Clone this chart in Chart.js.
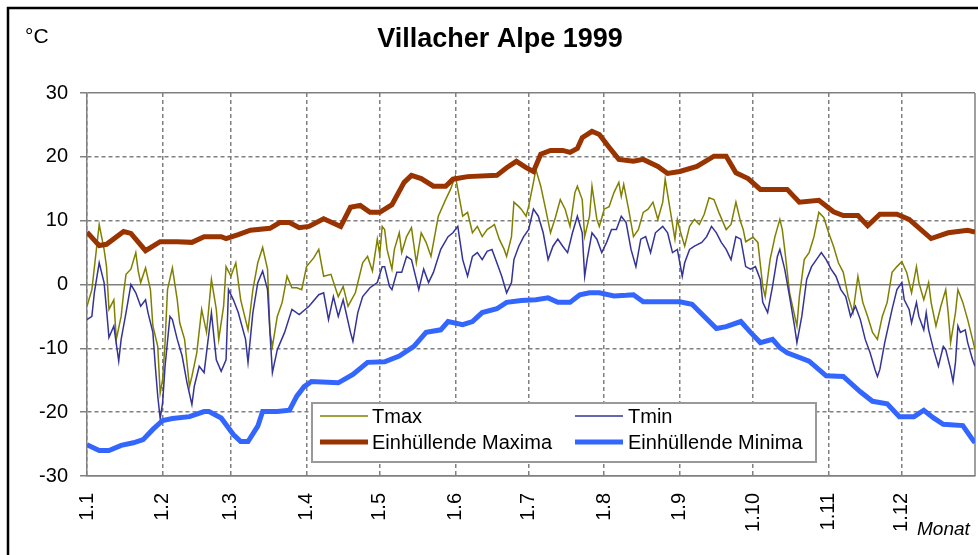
<!DOCTYPE html>
<html><head><meta charset="utf-8">
<script src="https://cdn.jsdelivr.net/npm/chart.js@4.4.1/dist/chart.umd.min.js"></script>
<style>html,body{margin:0;padding:0;background:#fff;} #wrap{width:978px;height:555px;position:relative;}</style>
</head><body><div id="wrap"><canvas id="c" width="978" height="555"></canvas></div>
<script>
const FONT = '"Liberation Sans", Arial, sans-serif';

const monthStartDays = [0,31,59,90,120,151,181,212,243,273,304,334];
const monthLabels = ['1.1','1.2','1.3','1.4','1.5','1.6','1.7','1.8','1.9','1.10','1.11','1.12'];

const tmaxDays = [0,2,5,7,8,9,11,12,14,15,16,18,20,21,22,24,26,27,29,30,31,32,33,35,37,38,40,42,43,45,47,49,51,53,54,56,57,59,61,63,66,68,70,72,74,75,76,78,80,82,84,86,88,90,93,95,97,100,103,105,107,110,113,115,117,119,120,121,
122,123,125,126,128,129,131,133,135,137,139,141,143,144,147,149,151,152,154,156,158,160,162,164,166,167,169,171,172,174,175,177,178,180,181,183,184,186,188,190,192,194,196,198,200,201,203,204,206,207,209,210,212,214,216,218,219,220,222,224,226,228,230,232,234,236,237,239,241,242,
243,245,247,249,251,253,255,257,259,262,264,266,268,269,270,273,275,277,278,280,282,284,285,286,288,291,292,294,296,298,300,302,304,306,308,310,312,314,316,318,320,322,324,326,328,330,332,334,336,338,340,341,343,345,346,348,350,352,353,354,356,357,359,361,363,364];
const tmaxValues = [-3.4,-0.8,9.4,5.5,2.8,-3.9,-2.4,-8.6,-5,-1.3,1.6,2.4,5,2.1,0.3,2.6,-0.8,-6.5,-9.7,-17,-14.9,-9.1,-0.8,2.6,-2.4,-6,-8.6,-16,-14.4,-10.7,-3.9,-7.5,0.8,-3.9,-8.6,-3.4,2.8,1.3,3.4,-2.4,-7.1,-0.8,3.4,5.8,2.4,-7.5,-9.7,-5,-2.8,1.3,-0.5,-0.5,-0.8,2.8,4.2,5.5,1.3,1.6,-1.9,-0.3,-3.4,-1.3,3.4,4.4,2.1,7.1,4.7,9.1,
8.6,5.5,2.4,5.5,8.1,5,7.5,8.9,3.4,8.1,6.6,4.4,8.6,10.7,13.3,14.9,17,14.9,10.7,11.3,8.1,9.1,7.5,8.6,9.1,9.4,7.1,5.5,4.4,7.5,12.9,12.2,11.8,10.7,12.2,16,18,15.4,11.8,8.1,10.5,13.3,11.8,9.1,14.4,15.4,13.3,7.5,10.7,15.4,10.2,9.1,11.8,12.2,14.4,16,13.8,15.7,11.8,7.5,8.6,11.3,11.8,12.9,10.2,12.9,16.5,11.8,7.1,10.2,
8.6,6,9.1,10.2,9.4,11,13.6,13.3,11.3,8.6,9.4,12.9,9.7,8.6,6.7,7.4,6.6,-0.3,-1.9,3.9,7.5,10.2,8.6,5.5,-1.3,-6.5,-1.9,3.9,5,7.5,11.3,10.5,8.1,6,3.4,1.9,-1.9,-4.4,1.3,-2.8,-5,-7.5,-8.6,-5,-2.8,1.9,2.8,3.6,1.9,-1.3,2.8,0.3,-2.4,0.3,-2.8,-6.5,-3.4,-0.8,-4.4,-9.1,-4.4,-0.8,-2.8,-5.5,-8.6,-10.2];

const tminDays = [0,2,3,5,7,8,9,11,13,14,16,18,20,22,24,25,27,28,29,30,31,32,34,35,37,39,41,43,44,46,48,51,53,55,57,58,60,62,65,66,68,70,72,74,75,76,78,81,84,87,91,95,97,99,101,103,105,108,109,111,113,116,119,121,
122,124,125,127,129,131,133,136,138,140,142,145,148,150,152,154,156,158,160,162,164,166,168,170,172,174,175,177,179,181,183,185,187,189,191,193,195,197,199,201,203,204,205,207,209,211,213,215,217,219,221,223,225,227,229,231,233,236,238,240,242,
244,245,247,249,252,254,256,258,260,262,264,266,268,270,272,274,276,277,279,281,283,284,286,288,290,291,293,295,297,299,301,303,305,307,309,311,313,315,317,319,321,323,324,325,327,330,332,334,335,337,338,340,341,343,344,345,347,349,351,352,354,355,356,357,358,360,361,363,364];
const tminValues = [-5.5,-5,-1.3,3.4,0.3,-3.9,-8.3,-6.5,-12,-8.6,-4.4,0,-1.3,-3.4,-2.4,-4.4,-7.5,-12.8,-17.5,-21,-18.5,-12.8,-5,-5.5,-8.6,-11.2,-15.4,-18.8,-15.9,-12.8,-13.8,-4.4,-11.8,-13.6,-11.8,-0.8,-2.4,-4.4,-8.6,-12.2,-4.4,0.3,2.1,-0.8,-7.5,-13.8,-10.2,-7.5,-3.9,-4.7,-3.4,-1.6,-1.3,-5.5,-1.9,-5,-2.4,-7.5,-8.9,-4.4,-1.9,-0.5,0.3,2.8,
2.8,-0.3,-0.8,1.9,1.9,4.4,3.9,-0.8,2.4,0.3,1.9,5.5,7.5,8.1,9.1,3.9,1.3,4.4,5,3.9,5.2,5.5,3.4,1.3,-1.3,0.3,3.9,6,7.5,8.6,11.8,10.7,8.1,3.9,6,7.1,6,5,8.1,10.7,8.1,1.3,3.9,8.1,7.1,5,6.6,8.6,8.6,10.7,9.7,5.5,2.8,7.1,7.5,5,8.1,9.1,8.1,5,5.5,
1.3,3.4,5.5,6,6.6,7.5,9.1,8.1,6.6,5.5,3.9,7.5,7.1,2.8,2.4,2.8,0.8,-2.8,-4.4,-0.3,4.4,5.5,2.4,-1.9,-6.5,-9.1,-5,0.8,2.8,3.9,5,3.9,2.4,1.3,-0.8,-1.9,-5,-3.4,-5.5,-8.6,-10.7,-13.3,-14.4,-13.3,-9.1,-3.9,-0.8,0.3,-2.4,-3.9,-6,-2.8,-5,-7.1,-4.4,-7.1,-10.2,-12.8,-9.7,-10.2,-13.3,-15.2,-12.2,-6.5,-7.5,-7.1,-9.1,-11.8,-12.8];

const envMaxDays = [0,5,8,15,18,24,30,37,43,48,55,57,62,67,75,79,83,87,91,97,104,108,112,116,120,125,130,133,137,142,147,150,156,168,172,176,180,183,186,190,195,198,201,203,207,210,214,218,224,228,234,238,243,250,257,262,266,271,276,287,292,300,306,310,316,320,325,332,337,346,353,361,364];
const envMaxValues = [8.2,6.1,6.3,8.3,8,5.3,6.7,6.7,6.6,7.5,7.5,7.2,7.8,8.5,8.8,9.7,9.7,8.9,9.1,10.3,9.1,12.1,12.4,11.3,11.3,12.5,16,17.1,16.6,15.4,15.4,16.5,16.9,17.1,18.3,19.3,18.3,17.7,20.4,21,21,20.7,21.3,23,24,23.5,21.5,19.6,19.3,19.6,18.5,17.4,17.7,18.5,20.1,20.1,17.5,16.6,14.9,14.9,12.9,13.2,11.4,10.8,10.8,9.2,11,11,10.2,7.2,8.1,8.5,8.2];

const envMinDays = [0,5,9,14,19,23,27,31,35,42,48,50,55,60,63,66,70,72,78,83,86,89,92,103,109,115,122,128,134,139,145,148,154,158,162,168,172,178,184,189,193,198,202,206,210,216,221,224,228,243,248,258,262,268,272,276,281,284,287,296,303,310,317,322,328,333,339,343,347,351,359,363,364];
const envMinValues = [-25.1,-26,-26,-25.2,-24.8,-24.3,-22.7,-21.3,-21,-20.7,-19.9,-19.9,-20.9,-23.5,-24.6,-24.6,-22.2,-19.9,-19.9,-19.7,-17.5,-16,-15.2,-15.4,-14.1,-12.2,-12.1,-11.2,-9.7,-7.5,-7.1,-5.8,-6.3,-5.8,-4.4,-3.8,-2.8,-2.5,-2.4,-2.1,-2.8,-2.8,-1.6,-1.3,-1.3,-1.8,-1.7,-1.6,-2.7,-2.7,-3.1,-6.9,-6.6,-5.8,-7.5,-9.1,-8.6,-9.9,-10.7,-12,-14.3,-14.4,-16.8,-18.3,-18.7,-20.7,-20.7,-19.7,-20.9,-21.9,-22.1,-24.3,-24.8];

const seriesLabels = ['Tmax','Tmin','Einhüllende Maxima','Einhüllende Minima'];

const mk = (days, vals) => days.map((d, i) => ({x: d, y: vals[i]}));

const GRID = '#808080';

const decor = {
  id: 'decor',
  beforeDraw(chart) {
    const ctx = chart.ctx;
    ctx.save();
    ctx.fillStyle = '#fff';
    ctx.fillRect(0, 0, chart.width, chart.height);
    ctx.restore();
  },
  beforeDatasetsDraw(chart) {
    const {ctx, chartArea: a} = chart;
    ctx.save();
    ctx.strokeStyle = GRID;
    ctx.lineWidth = 1.5;
    ctx.beginPath();
    ctx.moveTo(a.right, a.top);
    ctx.lineTo(a.right, a.bottom);
    ctx.stroke();
    ctx.restore();
  },
  afterDraw(chart) {
    const ctx = chart.ctx;
    ctx.save();
    // outer frame
    ctx.strokeStyle = '#000';
    ctx.lineWidth = 2.5;
    ctx.strokeRect(8, 8, 2000, 2000);
    // unit label
    ctx.fillStyle = '#000';
    ctx.font = '21px ' + FONT;
    ctx.textBaseline = 'middle';
    ctx.textAlign = 'left';
    ctx.fillText('°C', 25, 37);
    // axis title
    ctx.font = 'italic 19px ' + FONT;
    ctx.textBaseline = 'alphabetic';
    ctx.fillText('Monat', 917, 535);
    // legend
    const L = {x: 312, y: 403, w: 504, h: 59};
    ctx.fillStyle = '#fff';
    ctx.fillRect(L.x, L.y, L.w, L.h);
    ctx.strokeStyle = '#999';
    ctx.lineWidth = 2;
    ctx.strokeRect(L.x, L.y, L.w, L.h);
    const cols = [{s: 320, e: 368, t: 372}, {s: 575, e: 623, t: 628}];
    const rows = [416, 442];
    ctx.font = '20px ' + FONT;
    ctx.textBaseline = 'middle';
    chart.data.datasets.forEach((ds, i) => {
      const c = cols[i % 2], y = rows[Math.floor(i / 2)];
      ctx.strokeStyle = ds.borderColor;
      ctx.lineWidth = ds.borderWidth;
      ctx.beginPath();
      ctx.moveTo(c.s, y);
      ctx.lineTo(c.e, y);
      ctx.stroke();
      ctx.fillStyle = '#000';
      ctx.fillText(ds.label, c.t, y + 1);
    });
    ctx.restore();
  }
};

new Chart(document.getElementById('c'), {
  type: 'line',
  data: {
    datasets: [
      {label: seriesLabels[0], data: mk(tmaxDays, tmaxValues), borderColor: '#808000', borderWidth: 1.5, pointRadius: 0, tension: 0, order: 4},
      {label: seriesLabels[1], data: mk(tminDays, tminValues), borderColor: '#333399', borderWidth: 1.5, pointRadius: 0, tension: 0, order: 3},
      {label: seriesLabels[2], data: mk(envMaxDays, envMaxValues), borderColor: '#993300', borderWidth: 5, pointRadius: 0, tension: 0, order: 2},
      {label: seriesLabels[3], data: mk(envMinDays, envMinValues), borderColor: '#3366FF', borderWidth: 5, pointRadius: 0, tension: 0, order: 1}
    ]
  },
  options: {
    responsive: false,
    animation: false,
    devicePixelRatio: 1,
    layout: {padding: {left: 25, right: 3, top: 0, bottom: 0}},
    plugins: {
      legend: {display: false},
      tooltip: {enabled: false},
      title: {
        display: true, text: 'Villacher Alpe 1999', color: '#000',
        font: {family: FONT, size: 27, weight: 'bold', lineHeight: 1.2},
        padding: {top: 23.8, bottom: 36.8}
      }
    },
    scales: {
      x: {
        type: 'linear', min: 0, max: 364,
        afterBuildTicks: (s) => { s.ticks = monthStartDays.map(v => ({value: v})); },
        afterFit: (s) => { s.height = 79; },
        ticks: {
          autoSkip: false, maxRotation: 90, minRotation: 90, padding: 17, color: '#000',
          font: {family: FONT, size: 20},
          callback: (v) => monthLabels[monthStartDays.indexOf(v)]
        },
        grid: {color: GRID, lineWidth: 1.5, drawTicks: false},
        border: {display: true, color: GRID, width: 1.5, dash: [4, 3]}
      },
      y: {
        min: -30, max: 30,
        afterFit: (s) => { s.width = 62; },
        ticks: {stepSize: 10, padding: 12, color: '#000', font: {family: FONT, size: 20}},
        grid: {color: GRID, lineWidth: 1.5, tickLength: 7, tickBorderDash: [], tickColor: GRID},
        border: {
          display: true, color: GRID, width: 1.5,
          dash: (c) => (c.tick && (c.tick.value === 0 || c.tick.value === 30 || c.tick.value === -30)) ? [] : [4, 3]
        }
      }
    }
  },
  plugins: [decor]
});
</script>
</body></html>
